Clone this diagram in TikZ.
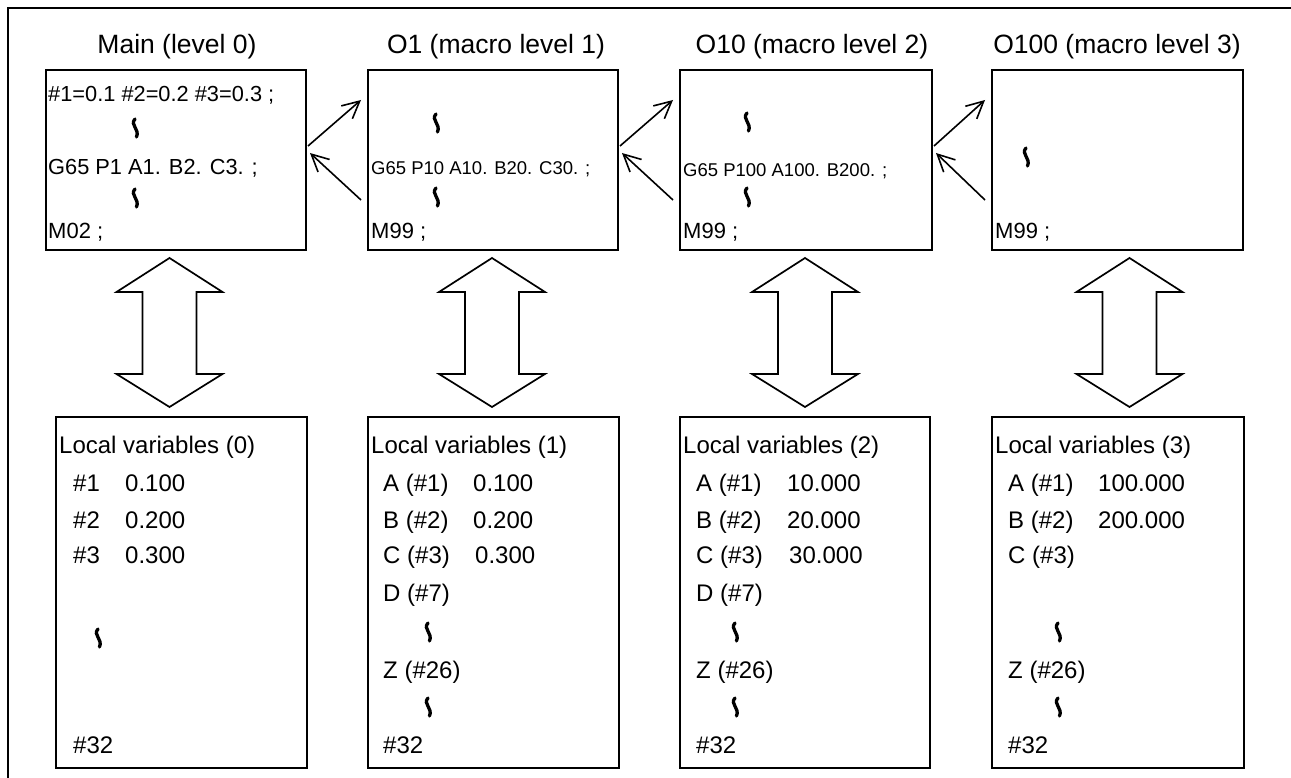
\documentclass[tikz,border=0pt]{standalone}
\usepackage{fontspec}
\setmainfont{Liberation Sans}
\usetikzlibrary{arrows.meta}
\tikzset{
  frame/.style={line width=2.6pt},
  box/.style={draw, line width=1.7pt, rectangle, inner sep=0pt, anchor=north west},
  ttl/.style={anchor=base, inner sep=0pt, font=\fontsize{26.5}{30}\selectfont},
  codeA/.style={anchor=base west, inner sep=0pt, font=\fontsize{21.8}{24}\selectfont},
  codeB/.style={anchor=base west, inner sep=0pt, font=\fontsize{18.5}{22}\selectfont},
  endtxt/.style={anchor=base west, inner sep=0pt, font=\fontsize{22}{25}\selectfont},
  vartxt/.style={anchor=base west, inner sep=0pt, font=\fontsize{24}{28}\selectfont},
  conn/.style={line width=1.6pt, -{Straight Barb[length=17pt,width=17pt,line width=1.6pt]}},
  dbl/.style={line width=1.7pt, line join=miter},
  squig/.pic={\draw[line width=3.3pt, line cap=round] (0,-9) .. controls (-5.5,-3) and (5,1) .. (1.5,9);}
}
\begin{document}
\begin{tikzpicture}[x=1pt,y=-1pt]
\useasboundingbox (0,0) rectangle (1291,778);
% outer frame (open on right and bottom)
\draw[frame] (1291,8) -- (8,8) -- (8,778);

% titles
\node[ttl] (h1) at (177,54) {Main (level 0)};
\node[ttl] (h2) at (496,54) {O1 (macro level 1)};
\node[ttl] (h3) at (812,54) {O10 (macro level 2)};
\node[ttl] (h4) at (1117,54) {O100 (macro level 3)};

% top boxes
\node[box, minimum width=260pt, minimum height=180pt] (t1) at (45,69) {};
\node[box, minimum width=250pt, minimum height=180pt] (t2) at (367,69) {};
\node[box, minimum width=252pt, minimum height=180pt] (t3) at (679,69) {};
\node[box, minimum width=251pt, minimum height=180pt] (t4) at (991,69) {};

% box 1 content
\node[codeA] (c11) at (48,102) {\#1=0.1 \#2=0.2 \#3=0.3 ;};
\pic at (135,128) {squig};
\node[codeA] (c12) at (48,175) {G65 P1 A1. B2. C3. ;};
\pic at (135,198) {squig};
\node[endtxt] (c13) at (48,239) {M02 ;};
% box 2 content
\pic at (436,123) {squig};
\node[codeB] (c21) at (371,175) {G65 P10 A10. B20. C30. ;};
\pic at (436,197) {squig};
\node[endtxt] (c22) at (371,239) {M99 ;};
% box 3 content
\pic at (747,122) {squig};
\node[codeB] (c31) at (683,177) {G65 P100 A100. B200. ;};
\pic at (747,197) {squig};
\node[endtxt] (c32) at (683,239) {M99 ;};
% box 4 content
\pic at (1026,157) {squig};
\node[endtxt] (c41) at (995,239) {M99 ;};

% call / return arrows
\coordinate (a1s) at (308,146); \coordinate (a1e) at (361,100);
\coordinate (r1s) at (361,200); \coordinate (r1e) at (310,153);
\coordinate (a2s) at (620,146); \coordinate (a2e) at (673,100);
\coordinate (r2s) at (673,200); \coordinate (r2e) at (622,153);
\coordinate (a3s) at (934,146); \coordinate (a3e) at (985,100);
\coordinate (r3s) at (985,200); \coordinate (r3e) at (936,153);
\draw[conn] (a1s) -- (a1e);
\draw[conn] (r1s) -- (r1e);
\draw[conn] (a2s) -- (a2e);
\draw[conn] (r2s) -- (r2e);
\draw[conn] (a3s) -- (a3e);
\draw[conn] (r3s) -- (r3e);

% double arrows
\foreach \cx in {169.5,492,805,1129.5}{
  \draw[dbl] (\cx,258) -- (\cx+53,292) -- (\cx+27,292) -- (\cx+27,374) -- (\cx+53,374)
    -- (\cx,407) -- (\cx-53,374) -- (\cx-27,374) -- (\cx-27,292) -- (\cx-53,292) -- cycle;
}

% bottom boxes
\node[box, minimum width=251pt, minimum height=351pt] (v1) at (55,416) {};
\node[box, minimum width=251pt, minimum height=351pt] (v2) at (367,416) {};
\node[box, minimum width=250pt, minimum height=351pt] (v3) at (679,416) {};
\node[box, minimum width=252pt, minimum height=351pt] (v4) at (991,416) {};

% variables 0
\node[vartxt] (l0) at (59,453) {Local variables (0)};
\node[vartxt] (l0a) at (73,491) {\#1};  \node[vartxt] (l0av) at (125,491) {0.100};
\node[vartxt] (l0b) at (73,528) {\#2};  \node[vartxt] (l0bv) at (125,528) {0.200};
\node[vartxt] (l0c) at (73,563) {\#3};  \node[vartxt] (l0cv) at (125,563) {0.300};
\pic at (98,638) {squig};
\node[vartxt] (l0z) at (73,753) {\#32};

% variables 1
\node[vartxt] (l1) at (371,453) {Local variables (1)};
\node[vartxt] (l1a) at (383,491) {A (\#1)};  \node[vartxt] (l1av) at (473,491) {0.100};
\node[vartxt] (l1b) at (383,528) {B (\#2)};  \node[vartxt] (l1bv) at (473,528) {0.200};
\node[vartxt] (l1c) at (383,563) {C (\#3)};  \node[vartxt] (l1cv) at (475,563) {0.300};
\node[vartxt] (l1d) at (383,601) {D (\#7)};
\pic at (428,632) {squig};
\node[vartxt] (l1e) at (383,678) {Z (\#26)};
\pic at (428,707) {squig};
\node[vartxt] (l1f) at (383,753) {\#32};

% variables 2
\node[vartxt] (l2) at (683,453) {Local variables (2)};
\node[vartxt] (l2a) at (696,491) {A (\#1)};  \node[vartxt] (l2av) at (787,491) {10.000};
\node[vartxt] (l2b) at (696,528) {B (\#2)};  \node[vartxt] (l2bv) at (787,528) {20.000};
\node[vartxt] (l2c) at (696,563) {C (\#3)};  \node[vartxt] (l2cv) at (789,563) {30.000};
\node[vartxt] (l2d) at (696,601) {D (\#7)};
\pic at (735,632) {squig};
\node[vartxt] (l2e) at (696,678) {Z (\#26)};
\pic at (735,707) {squig};
\node[vartxt] (l2f) at (696,753) {\#32};

% variables 3
\node[vartxt] (l3) at (995,453) {Local variables (3)};
\node[vartxt] (l3a) at (1008,491) {A (\#1)};  \node[vartxt] (l3av) at (1098,491) {100.000};
\node[vartxt] (l3b) at (1008,528) {B (\#2)};  \node[vartxt] (l3bv) at (1098,528) {200.000};
\node[vartxt] (l3c) at (1008,563) {C (\#3)};
\pic at (1058,632) {squig};
\node[vartxt] (l3e) at (1008,678) {Z (\#26)};
\pic at (1058,707) {squig};
\node[vartxt] (l3f) at (1008,753) {\#32};
\end{tikzpicture}
\end{document}
